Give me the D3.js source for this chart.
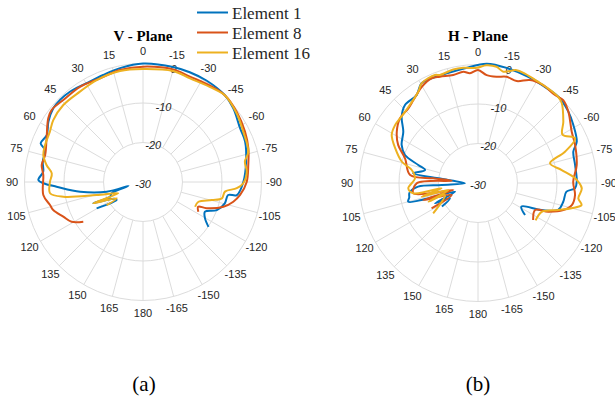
<!DOCTYPE html>
<html>
<head>
<meta charset="utf-8">
<script src="https://cdn.jsdelivr.net/npm/d3@7"></script>
<style>
  body { margin: 0; background: #fff; }
  svg { display: block; }
</style>
</head>
<body>
<svg width="615" height="403"></svg>
<script>
// [theta (deg, ccw from top), level (dB)]
var vPlaneEl1 = [[-124.4,-9.9],[-120.4,-11.8],[-115.6,-12.6],[-110.8,-10],[-104.6,-8.6],[-98.7,-8.2],[-97.9,-6],[-90,-4.6],[-78.9,-3.4],[-68.4,-2.2],[-61,-1.9],[-50.8,-0.5],[-43.3,0.2],[-32,0.3],[-23.1,0.2],[-14.7,0.1],[0,0],[11.4,-0.6],[20.4,-1.1],[29.7,-1.2],[39,-0.6],[45.3,-0.45],[50.6,-0.6],[57.5,-1.6],[64,-2.9],[69.3,-2.3],[71.9,-3.9],[78.6,-4.1],[84.1,-4.6],[88.9,-3.5],[90.7,-4.8],[93.1,-8.1],[98.8,-13.9],[105,-20.5],[105.2,-26.2],[110,-21.5],[114,-20.9],[113.2,-16.3],[120,-21.5],[124.4,-21.9],[119.6,-16.5]];
var vPlaneEl8 = [[-118.2,-14.1],[-114.1,-14.7],[-112.4,-12.6],[-107.1,-8.7],[-102.3,-6.6],[-97.6,-5.2],[-90,-3.75],[-80.8,-3],[-72.3,-2],[-63.7,-1.2],[-53.1,-0.35],[-43.3,0.2],[-34.6,-0.3],[-24,-0.8],[-14.9,-0.5],[0,-0.8],[11.6,-1.05],[22.5,-1.6],[33.5,-1.1],[44.2,-1.05],[51.7,-0.55],[56.1,-1.1],[65.6,-3.2],[74.6,-4.3],[80.5,-4],[86,-4.7],[97.4,-4.55],[103.9,-5.75],[107.3,-6.2],[113.5,-8],[119.1,-9.3],[123.6,-11.85]];
var vPlaneEl16 = [[-115.4,-15.4],[-109.6,-15.1],[-104.7,-12],[-101.7,-9.6],[-96.7,-9.1],[-93.8,-6.2],[-90.7,-4.6],[-84.3,-3.6],[-78.7,-3.7],[-73.9,-2.25],[-63.4,-1.6],[-53.7,-0.6],[-43.3,0.2],[-35,-0.6],[-24.4,-1.2],[-15.1,-0.9],[0,-1.4],[11.7,-1.3],[24.4,-1.65],[34.9,-2.1],[46,-1.95],[55.4,-2.4],[61.6,-3.2],[69.3,-3.5],[74.8,-3.85],[80,-5.2],[84.6,-6.8],[90,-6.45],[96.9,-6.3],[100.5,-9.5],[105.7,-17.8],[114.6,-23.1],[113.2,-16.3],[121.8,-22.2],[122.4,-19.1]];

var hPlaneEl1 = [[-124.2,-15.6],[-118.5,-17.5],[-113,-12.5],[-108.6,-8.6],[-102.4,-7.9],[-95.6,-7.5],[-93.1,-5.4],[-89.2,-5],[-79.5,-5],[-71.8,-4.6],[-67.3,-2.9],[-58.7,-1.75],[-51.7,-0.85],[-42.9,-0.15],[-33,-0.4],[-25.3,-0.25],[-14.8,0],[-4.2,0.3],[6.5,-0.75],[18.6,-1.15],[29.5,-1],[34.9,-2.85],[43.1,-2.95],[49,-4.4],[55.5,-7.05],[63.5,-8.4],[69,-10.2],[73.2,-14.2],[76.2,-16.2],[81.5,-13.4],[83.2,-19.9],[91.3,-26.7],[93.2,-20.8],[93.5,-14.8],[98,-12.5],[102,-12.2],[105,-11.7],[106.8,-15.1],[110.7,-23.8],[115.3,-18],[118.7,-21.9],[123.1,-19.1]];
var hPlaneEl8 = [[-123.8,-13.2],[-115.3,-14],[-112.2,-10.8],[-107.6,-7.35],[-103.2,-5.6],[-97.1,-5.25],[-89.2,-5.9],[-79.7,-4.6],[-68.6,-3.6],[-61.3,-2.95],[-51.7,-0.85],[-45.8,0.1],[-41.2,-0.4],[-33.6,-0.25],[-26.8,-0.8],[-20.8,-2.4],[-15.1,-2.15],[-10,-2.7],[-4.6,-2.6],[0,-1.4],[4.2,-2.15],[7.5,-1.6],[12.9,-1.95],[19.7,-1.4],[23.9,-1],[30.3,-1.8],[37.9,-3.4],[43,-4.15],[50.3,-4.35],[57.8,-5.7],[64.5,-7.6],[71.3,-10.5],[83.3,-12.7],[84,-18.6],[85,-23.3],[90.3,-14.5],[99,-13.4],[102.1,-17.6],[105.8,-23.5],[107.3,-15.5],[114.5,-22.7],[118.7,-16.6]];
var hPlaneEl16 = [[-123,-12.6],[-114.3,-12.3],[-108.6,-8.6],[-105.1,-5.45],[-102,-3.2],[-98.7,-4.3],[-92.9,-3.7],[-87.2,-5.4],[-81.2,-8.55],[-74.7,-11.1],[-70.2,-6.6],[-65.3,-2.95],[-60.2,-5.35],[-54.3,-3.4],[-46.4,-0.7],[-42.9,-0.2],[-36.6,-0.2],[-30.8,-0.2],[-23.2,0.1],[-18.9,0.2],[-12.8,-1.1],[-9.1,-0.2],[-4,-0.1],[0.6,-0.85],[7.3,-0.6],[12.3,-0.6],[19.4,-1],[21.7,-0.55],[29.5,-1],[33.2,-2.4],[45.7,-4.2],[55.1,-4.4],[60.9,-5],[67.3,-7.3],[74.4,-10],[78.9,-12.9],[85.7,-14],[94.3,-12.3],[99,-13.4],[98.3,-20.7],[103.7,-15.3],[103.3,-22.3],[110.6,-16.6],[110,-21.1],[124.1,-16.3]];

var seriesNames = ["Element 1", "Element 8", "Element 16"];
var seriesColors = ["#0072BD", "#D95319", "#EDB120"];
var angleTicks = [0, 15, 30, 45, 60, 75, 90, 105, 120, 135, 150, 165, 180, -165, -150, -135, -120, -105, -90, -75, -60, -45, -30, -15];
var radialTicks = [-30, -20, -10, 0];

var svg = d3.select("svg");
var R = 118.5;
var r = d3.scaleLinear().domain([-30, 0]).range([0, R]);
var rad = function(deg) { return -deg * Math.PI / 180; };  // d3 radial angle is clockwise

function polar(cx, cy, title, data) {
  var g = svg.append("g").attr("transform", "translate(" + cx + "," + cy + ")");

  // spokes start at the -20 ring
  g.selectAll("line.spoke")
    .data(d3.range(0, 360, 15))
    .enter().append("line")
      .attr("x1", function(d) { return -r(-20) * Math.sin(d * Math.PI / 180); })
      .attr("y1", function(d) { return -r(-20) * Math.cos(d * Math.PI / 180); })
      .attr("x2", function(d) { return -R * Math.sin(d * Math.PI / 180); })
      .attr("y2", function(d) { return -R * Math.cos(d * Math.PI / 180); })
      .attr("stroke", "#dcdcdc").attr("stroke-width", 1);

  g.selectAll("circle.ring")
    .data(radialTicks.slice(1))
    .enter().append("circle")
      .attr("r", function(d) { return r(d); })
      .attr("fill", "none").attr("stroke", "#dcdcdc").attr("stroke-width", 1);

  g.selectAll("text.ang")
    .data(angleTicks)
    .enter().append("text")
      .attr("x", function(d) { return -131 * Math.sin(d * Math.PI / 180); })
      .attr("y", function(d) { return -131 * Math.cos(d * Math.PI / 180); })
      .attr("text-anchor", "middle").attr("dy", "0.35em")
      .attr("font-family", "Liberation Sans, Arial, sans-serif").attr("font-size", 11)
      .attr("fill", "#262626")
      .text(function(d) { return d; });

  g.selectAll("text.rad")
    .data(radialTicks)
    .enter().append("text")
      .attr("x", function(d) { return r(d) * Math.sin(15 * Math.PI / 180); })
      .attr("y", function(d) { return -r(d) * Math.cos(15 * Math.PI / 180); })
      .attr("text-anchor", "middle").attr("dy", "0.5em")
      .attr("font-family", "Liberation Sans, Arial, sans-serif").attr("font-size", 11)
      .attr("font-style", "italic").attr("fill", "#262626")
      .text(function(d) { return d; });

  var line = d3.lineRadial()
    .angle(function(d) { return rad(d[0]); })
    .radius(function(d) { return r(d[1]); })
    .curve(d3.curveCatmullRom.alpha(0.5));

  g.selectAll("path.trace")
    .data(data)
    .enter().append("path")
      .attr("d", function(d) { return line(d); })
      .attr("fill", "none")
      .attr("stroke", function(d, i) { return seriesColors[i]; })
      .attr("stroke-width", 2)
      .attr("stroke-linejoin", "round");

  svg.append("text")
    .attr("x", cx).attr("y", 41)
    .attr("text-anchor", "middle")
    .attr("font-family", "Liberation Serif, Times New Roman, serif")
    .attr("font-weight", "bold").attr("font-size", 15)
    .text(title);
}

polar(143, 182, "V - Plane", [vPlaneEl1, vPlaneEl8, vPlaneEl16]);
polar(478, 183, "H - Plane", [hPlaneEl1, hPlaneEl8, hPlaneEl16]);

// legend
var legend = svg.append("g").selectAll("g")
  .data(seriesNames)
  .enter().append("g")
    .attr("transform", function(d, i) { return "translate(197," + (12.5 + i * 20) + ")"; });
legend.append("line")
  .attr("x1", 0).attr("x2", 31)
  .attr("stroke", function(d, i) { return seriesColors[i]; })
  .attr("stroke-width", 2);
legend.append("text")
  .attr("x", 35).attr("y", 6)
  .attr("font-family", "Liberation Serif, Times New Roman, serif").attr("font-size", 17)
  .attr("fill", "#262626")
  .text(function(d) { return d; });

svg.selectAll("text.cap")
  .data([["(a)", 144], ["(b)", 478]])
  .enter().append("text")
    .attr("x", function(d) { return d[1]; }).attr("y", 391)
    .attr("text-anchor", "middle")
    .attr("font-family", "Liberation Serif, Times New Roman, serif").attr("font-size", 21)
    .text(function(d) { return d[0]; });
</script>
</body>
</html>
